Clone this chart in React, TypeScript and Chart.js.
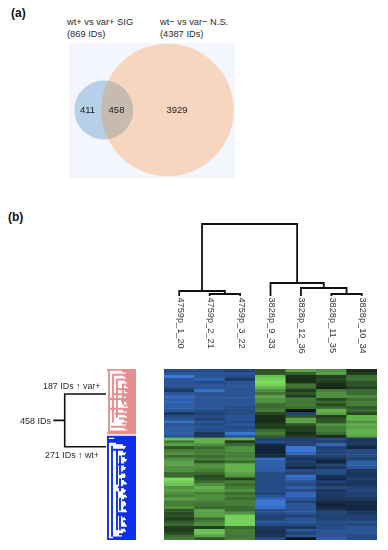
import React, { useEffect, useRef } from "react";
import { Chart, registerables } from "chart.js";

Chart.register(...registerables);

const FONT = '"Liberation Sans", Arial, sans-serif';

// Venn: set sizes and region counts
const vennSets = ["wt+ vs var+ SIG", "wt− vs var− N.S."];
const vennSetSizes = [869, 4387];
const vennCentreX = [34.8, 98.5];
const vennCentreY = [67, 67];
const vennRegionCounts = [411, 458, 3929];
const vennRegionX = [18.5, 47.5, 108];

// Heatmap: samples and rows (signed expression level, -10 blue .. +10 green)
const sampleNames = ["4759p_1_20", "4759p_2_21", "4759p_3_22", "3828p_9_33", "3828p_12_36", "3828p_11_35", "3828p_10_34"];
const col1 = [-4,-5,-9,-5,-5,-5,-4,-2,-5,-7,-6,-7,-6,-6,-5,-2,-4,-5,-8,-5,-6,-6,-6,-5,8,4,6,2,4,5,3,5,6,6,5,5,3,3,10,9,8,5,6,5,4,6,4,4,5,2,1.5,2,1,2,3,1,1,1.5,3,4];
const col2 = [-4,-5,-5,-7,-4,-5,-5,-8,-5,-5,-5,-5,-5,-5,-4,-3,-4,-3,-5,-4,-5,-4,-2,-2,7,7,5,3,4,4,3,4,2,5,5,4,3,1.5,2,3,5,7,6,4,5,5,4,3.5,3,6,6,6,3,4,5,1,8,8,6,2];
const col3 = [-3,-5,-4,-2,-5,-5,-5,-5,-5,-5,-5,-5,-5,-4,-4,-4,-5,-5,-4,-5,-4,-5,-9,-5,7,1,3,5,5,4,4,5,3,7,7,7,6,5,1,4,3,4,5,3,4,3,4,4,3,3,5,9,9,9,9,3,4,4,3.5,4];
const col4 = [2,2,8,9,10,9,7,5,3.5,6,5,5,3,3,4,1.5,0.5,0.5,0.5,1,1,3,4,2.5,-3,-4,-1,-0.5,-0.5,-0.5,-1,-8,-6,-6,-6,-6,-4,-4,-4,-4,-4,-4,-4,-3,-5,-7,-9,-9,-8,-4,-4,-3,-3,-5,-4,-2,-1.5,-1.5,-2,-4];
const col5 = [6,2.5,0.5,0.5,0.5,3.5,3,1,2,1,4,3.5,4,3,0,-3,2,6,6,2,1,1,0.5,1,-3,-3,-3,-9,-9,-7,-3,-2,-3,-2,-1,-4,-3,-8,-7,-5,-4,-6,-4,-7,-7,-5,-3,-5,-5,-5,-5,-3,-5,-5,-4,-2,-5,-3,-5,0];
const col6 = [5,6,1,1.5,1,0.5,0.2,4,5,5,1.5,3,1.5,3,7,6,1,2,2,5,4,4,3,0.5,-4,-3,-7,-3,-3.5,-3,-3,-1.5,-0.5,-3,-2,-4,-4,-1.5,-1,-3,-2,-4,-2,-2.5,-2,-2,-1,-0.5,-1,-2,-3.5,-3,-3,-4,-4,-4,-5,-5,-5,-6];
const col7 = [0.5,1,3,3.5,2,2,1,3,3,4.5,3,4,4,2,3,1.5,7,7,5,7,6,7,7,6,-2,-2,-2,-0.8,-4,-4,-4,-3,-6,-6,-5,-2,-2,-2,-3,-2,-2,-3,-3.5,-3,-3,-2,-1,-1,-0.8,-1,-2,-3,-3,-4,-3.5,-5,-5,-5,-4,-4];
const heatColumns = [col1, col2, col3, col4, col5, col6, col7];

// Column dendrogram: linkage rows [node a, node b, height]; node >= 7 is an earlier merge
const colLinkage = [[1,2,2],[0,7,5],[5,6,2],[4,9,8],[3,10,13],[8,11,72]];

// Row dendrogram: merge distance of each leaf row
const pinkLeafDepth = [29,14,10,22,12,10,18,11,9,13,10,8,19,11,9,23,12,10,28,15,10,9,12,8,26,13,9,21,11,9,17,12,9,14,10,25,12,9,28,29];
const blueLeafDepth = [29,22,29,28,20,13,10,11,23,13,10,11,14,11,9,10,12,18,12,10,11,13,15,11,10,11,14,12,10,9,13,18,12,10,11,13,10,9,12,14,11,10,10,12,13,10,9,18,19,14,11,10,13,11,10,9,15,11,10,13,17,14,23,27];
const pinkBranches = [[27,1,38],[23,3,33],[19,6,30],[13,9,22]];
const blueBranches = [[28,0,64],[24,6,62],[19,8,30],[19,34,58],[16,12,24],[16,26,34],[16,38,46],[16,48,58]];
const clusterDepth = 30;
const bracketDepth = 71.3;
const stubDepth = 82.7;
const bracketRowA = 25;
const bracketRowB = 77.7;

const mix = (a: number[], b: number[], t: number) =>
  `rgb(${a.map((v, i) => Math.round(v + (b[i] - v) * t)).join(",")})`;
const heatColor = (v: number) => {
  const t = Math.pow(Math.min(1, Math.abs(v) / 10), 0.72);
  return v < 0 ? mix([12, 22, 34], [62, 126, 226], t) : mix([12, 24, 14], [124, 222, 96], t);
};

const base = {
  responsive: false,
  animation: false as const,
  events: [] as string[],
  plugins: { legend: { display: false }, tooltip: { enabled: false } },
};

const gap = { x: NaN, y: NaN };

function buildVenn(c: HTMLCanvasElement) {
  return new Chart(c, {
    type: "bubble",
    data: {
      datasets: [
        { data: [{ x: vennCentreX[0], y: vennCentreY[0], r: Math.sqrt(vennSetSizes[0]) }], backgroundColor: "#b5d0e7", borderWidth: 0, order: 2 },
        { data: [{ x: vennCentreX[1], y: vennCentreY[1], r: Math.sqrt(vennSetSizes[1]) }], backgroundColor: "rgba(255,120,4,0.25)", borderWidth: 0, order: 1 },
      ],
    },
    options: {
      ...base,
      layout: { autoPadding: false },
      scales: {
        x: { type: "linear", display: false, min: 0, max: 166 },
        y: { type: "linear", display: false, min: 0, max: 135, reverse: true },
      },
    },
    plugins: [
      {
        id: "vennText",
        beforeDraw(ch: any) {
          ch.ctx.fillStyle = "#f3f6fc";
          ch.ctx.fillRect(0, 0, ch.width, ch.height);
        },
        afterDatasetsDraw(ch: any) {
          const g = ch.ctx;
          g.save();
          g.font = `9.5px ${FONT}`;
          g.fillStyle = "#1c1c1c";
          g.textAlign = "center";
          g.textBaseline = "middle";
          vennRegionCounts.forEach((n, i) => {
            g.fillText(String(n), ch.scales.x.getPixelForValue(vennRegionX[i]), ch.scales.y.getPixelForValue(vennCentreY[0]));
          });
          g.restore();
        },
      },
    ],
  } as any);
}

function buildHeat(c: HTMLCanvasElement) {
  const rows = col1.map((_, r) => ({
    data: sampleNames.map(() => 1),
    backgroundColor: heatColumns.map((col) => heatColor(col[r])),
    borderColor: heatColumns.map((col) => heatColor(col[r])),
    borderWidth: 0.4,
    borderSkipped: false,
    barPercentage: 1,
    categoryPercentage: 1,
  }));
  return new Chart(c, {
    type: "bar",
    data: { labels: sampleNames, datasets: rows },
    options: {
      ...base,
      scales: {
        x: { stacked: true, display: false },
        y: { stacked: true, display: false, min: 0, max: col1.length, reverse: true },
      },
    },
  } as any);
}

function buildColTree(c: HTMLCanvasElement) {
  const pos: number[] = sampleNames.map((_, i) => i);
  const hgt: number[] = sampleNames.map(() => 0);
  const pts: any[] = [];
  colLinkage.forEach(([a, b, h]) => {
    pts.push({ x: pos[a], y: hgt[a] }, { x: pos[a], y: h }, { x: pos[b], y: h }, { x: pos[b], y: hgt[b] }, gap);
    pos.push((pos[a] + pos[b]) / 2);
    hgt.push(h);
  });
  return new Chart(c, {
    type: "scatter",
    data: {
      datasets: [{ data: pts, showLine: true, borderColor: "#111", borderWidth: 1.8, pointRadius: 0, borderCapStyle: "square", borderJoinStyle: "miter" }],
    },
    options: {
      ...base,
      layout: { padding: { bottom: 66 } },
      scales: {
        x: { type: "linear", display: false, min: -0.5, max: 6.5 },
        y: { type: "linear", display: false, min: 0, max: 76 },
      },
    },
    plugins: [
      {
        id: "sampleLabels",
        afterDatasetsDraw(ch: any) {
          const g = ch.ctx;
          sampleNames.forEach((s, i) => {
            g.save();
            g.translate(ch.scales.x.getPixelForValue(i) + 1, ch.scales.y.getPixelForValue(0) + 1.5);
            g.rotate(Math.PI / 2);
            g.font = `9.2px ${FONT}`;
            g.fillStyle = "#3a3a3a";
            g.textAlign = "left";
            g.textBaseline = "middle";
            g.fillText(s, 0, 0);
            g.restore();
          });
        },
      },
    ],
  } as any);
}

function buildRowTree(c: HTMLCanvasElement) {
  const rowH = 1.625;
  const cluster = (depths: number[], branches: number[][], offset: number) => {
    const pts: any[] = [];
    depths.forEach((d, i) => {
      const y = offset + (i + 0.5) * rowH;
      pts.push({ x: d, y }, { x: 0, y }, gap);
    });
    branches.forEach(([d, a, b]) => {
      pts.push({ x: d, y: offset + a * rowH }, { x: d, y: offset + b * rowH }, gap);
    });
    return pts;
  };
  const line = (data: any[], color: string, w: number) => ({
    data, showLine: true, borderColor: color, borderWidth: w, pointRadius: 0, borderCapStyle: "butt",
  });
  const root = (bracketRowA + bracketRowB) / 2;
  return new Chart(c, {
    type: "scatter",
    data: {
      datasets: [
        line(cluster(pinkLeafDepth, pinkBranches, 0), "#e68f91", 1.9),
        line(cluster(blueLeafDepth, blueBranches, 67), "#0f30ea", 1.9),
        line(
          [
            { x: clusterDepth, y: bracketRowA }, { x: bracketDepth, y: bracketRowA },
            { x: bracketDepth, y: bracketRowB }, { x: clusterDepth, y: bracketRowB }, gap,
            { x: bracketDepth, y: root }, { x: stubDepth, y: root },
          ],
          "#111", 1.6
        ),
      ],
    },
    options: {
      ...base,
      scales: {
        x: { type: "linear", display: false, min: 0, max: 86, reverse: true },
        y: { type: "linear", display: false, min: 0, max: 171, reverse: true },
      },
    },
  } as any);
}

const Box = ({ r, left, top, w, h }: any) => (
  <canvas ref={r} width={w} height={h} style={{ position: "absolute", left, top, width: w, height: h, display: "block" }} />
);

const Note = ({ x, y, size = 9.3, bold, children, color = "#2a2a2a" }: any) => (
  <div style={{ position: "absolute", left: x, top: y - 7, height: 14, lineHeight: "14px", fontFamily: FONT, fontSize: size, fontWeight: bold ? 700 : 400, color, whiteSpace: "nowrap" }}>
    {children}
  </div>
);

export default function App() {
  const venn = useRef<HTMLCanvasElement>(null);
  const colTree = useRef<HTMLCanvasElement>(null);
  const rowTree = useRef<HTMLCanvasElement>(null);
  const heat = useRef<HTMLCanvasElement>(null);

  useEffect(() => {
    const charts = [
      buildVenn(venn.current!),
      buildColTree(colTree.current!),
      buildRowTree(rowTree.current!),
      buildHeat(heat.current!),
    ];
    return () => charts.forEach((c) => c.destroy());
  }, []);

  return (
    <div style={{ position: "absolute", left: 0, top: 0, width: 388, height: 550, background: "#fff", overflow: "hidden", filter: "blur(0.4px)" }}>
      <Note x={11} y={12.5} size={12} bold color="#111">(a)</Note>
      <Note x={67} y={22}>{vennSets[0]}</Note>
      <Note x={67} y={34}>({vennSetSizes[0]} IDs)</Note>
      <Note x={160} y={22}>{vennSets[1]}</Note>
      <Note x={160} y={34}>({vennSetSizes[1]} IDs)</Note>
      <Box r={venn} left={68.5} top={43} w={166} h={135} />
      <Note x={8} y={217} size={12} bold color="#111">(b)</Note>
      <Box r={colTree} left={164} top={220} w={213} h={142} />
      <Box r={rowTree} left={50} top={369} w={86} h={171} />
      <Box r={heat} left={164} top={369} w={213} h={171} />
      <Note x={43} y={386} size={8.9}>187 IDs ↑ var+</Note>
      <Note x={20} y={421} size={9}>458 IDs</Note>
      <Note x={45} y={455} size={8.9}>271 IDs ↑ wt+</Note>
    </div>
  );
}
